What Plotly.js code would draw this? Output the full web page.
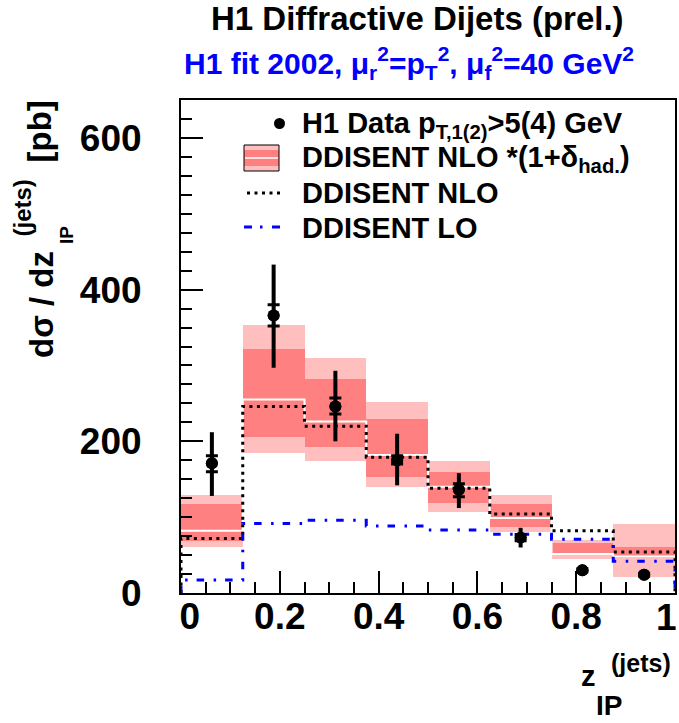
<!DOCTYPE html>
<html>
<head>
<meta charset="utf-8">
<script src="https://cdn.plot.ly/plotly-3.0.1.min.js"></script>
<style>html,body{margin:0;padding:0;background:#fff;}</style>
</head>
<body>
<div id="chart" style="width:679px;height:723px;"></div>
<script>
// ---- data ----
const binEdges   = [0, 0.125, 0.25, 0.375, 0.5, 0.625, 0.75, 0.875, 1];
const binCenters = [0.0625, 0.1875, 0.3125, 0.4375, 0.5625, 0.6875, 0.8125, 0.9375];

// H1 data
const dataY        = [171, 366, 246, 175, 136, 73, 30, 24];
const totErrPlus   = [41, 67, 47, 35, 22, 13, 4, 3];
const totErrMinus  = [43, 69, 46, 33, 24, 13, 4, 3];
const statErrPlus  = [10, 14, 11, 6, 8, 4, 2, 2];
const statErrMinus = [11, 14, 10, 5, 9, 4, 2, 2];

// DDISENT NLO *(1+delta_had) band
const outerLo  = [61, 185, 174, 140, 107, 80, 44.5, 21.5];
const innerLo  = [68, 206, 193, 153, 119, 87, 51, 46];
const central  = [82, 255, 226, 182, 140, 99, 51.5, 48];
const innerHi  = [118, 322, 282, 229, 159, 118, 66, 60];
const outerHi  = [129.5, 354, 310, 252, 174, 129, 70, 90.5];

// DDISENT NLO and LO
const nloY = [72, 246, 220, 179, 138, 104, 82, 54];
const loY  = [17, 91.5, 96, 88.5, 83, 77.5, 71, 42];

// x tick labels (the last one, "1", is drawn just inside the frame as ROOT does)
const xTickVals = [0, 0.2, 0.4, 0.6, 0.8, 1];
const xTickText = ['\u00a0\u20090', '0.2', '0.4', '0.6', '0.8', ''];
const xLastTickLabel = '1';
const yTickVals = [0, 200, 400, 600];
const yTickText = ['0', '200', '400', '600'];

// ---- helpers ----
const L = 181, R = 675, T = 100, B = 593;
const px = v => (v - L) / (R - L);
const py = v => (B - v) / (B - T);
const FONT = 'Liberation Sans, Arial, Helvetica, sans-serif';

function stepFromZero(vals) {
  const xs = [0], ys = [0];
  for (let i = 0; i < vals.length; i++) { xs.push(binEdges[i]); ys.push(vals[i]); }
  xs.push(1); ys.push(vals[vals.length - 1]);
  xs.push(1); ys.push(0);
  return {x: xs, y: ys};
}
function stepPlain(vals) {
  const xs = [], ys = [];
  for (let i = 0; i < vals.length; i++) { xs.push(binEdges[i]); ys.push(vals[i]); }
  xs.push(1); ys.push(vals[vals.length - 1]);
  return {x: xs, y: ys};
}

const widths = binCenters.map((c, i) => binEdges[i + 1] - binEdges[i]);

const traces = [];
traces.push({
  type: 'bar', x: binCenters, base: outerLo, y: outerHi.map((v, i) => v - outerLo[i]),
  width: widths, marker: {color: '#ffbfbf', line: {width: 0}}, hoverinfo: 'skip', showlegend: false
});
traces.push({
  type: 'bar', x: binCenters, base: innerLo, y: innerHi.map((v, i) => v - innerLo[i]),
  width: widths, marker: {color: '#ff8080', line: {width: 0}}, hoverinfo: 'skip', showlegend: false
});
const cst = stepPlain(central);
traces.push({
  type: 'scatter', mode: 'lines', x: cst.x, y: cst.y, line: {shape: 'hv', color: '#ffffff', width: 2},
  hoverinfo: 'skip', showlegend: false
});
const nst = stepFromZero(nloY);
traces.push({
  type: 'scatter', mode: 'lines', x: nst.x, y: nst.y,
  line: {shape: 'hv', color: '#000000', width: 3, dash: '3px,4.5px'}, hoverinfo: 'skip', showlegend: false
});
const lst = stepFromZero(loY);
traces.push({
  type: 'scatter', mode: 'lines', x: lst.x, y: lst.y,
  line: {shape: 'hv', color: '#0000ff', width: 3, dash: '7.5px,9.5px,2.5px,9px'}, hoverinfo: 'skip', showlegend: false
});
traces.push({
  type: 'scatter', mode: 'markers', x: binCenters, y: dataY,
  marker: {color: '#000', size: 12},
  error_y: {type: 'data', symmetric: false, array: totErrPlus, arrayminus: totErrMinus, color: '#000', thickness: 4, width: 0},
  hoverinfo: 'skip', showlegend: false
});
traces.push({
  type: 'scatter', mode: 'markers', x: binCenters, y: dataY,
  marker: {color: '#000', size: 12},
  error_y: {type: 'data', symmetric: false, array: statErrPlus, arrayminus: statErrMinus, color: '#000', thickness: 3, width: 6},
  hoverinfo: 'skip', showlegend: false
});

// ---- legend drawn as shapes + text ----
const shapes = [
  {type: 'circle', xref: 'paper', yref: 'paper', x0: px(274), x1: px(285), y0: py(129), y1: py(118),
   fillcolor: '#000', line: {width: 0}},
  {type: 'rect', xref: 'paper', yref: 'paper', x0: px(244), x1: px(279), y0: py(171), y1: py(145),
   fillcolor: '#ffbfbf', line: {width: 0}},
  {type: 'rect', xref: 'paper', yref: 'paper', x0: px(244), x1: px(279), y0: py(166), y1: py(150),
   fillcolor: '#ff8080', line: {width: 0}},
  {type: 'line', xref: 'paper', yref: 'paper', x0: px(245), x1: px(278), y0: py(158), y1: py(158),
   line: {color: '#fff', width: 1.5}},
  {type: 'rect', xref: 'paper', yref: 'paper', x0: px(244), x1: px(279), y0: py(171), y1: py(145),
   fillcolor: 'rgba(0,0,0,0)', line: {color: '#000', width: 1}},
  {type: 'line', xref: 'paper', yref: 'paper', x0: px(247), x1: px(281), y0: py(193), y1: py(193),
   line: {color: '#000', width: 3, dash: '3px,4.5px'}},
  {type: 'line', xref: 'paper', yref: 'paper', x0: px(244), x1: px(281), y0: py(227), y1: py(227),
   line: {color: '#0000ff', width: 3, dash: '8px,8px,2.5px,9.5px'}}
];

function ann(text, x, y, size, opts) {
  return Object.assign({
    text: text, xref: 'paper', yref: 'paper', x: px(x), y: py(y), showarrow: false,
    xanchor: 'center', yanchor: 'middle',
    font: {family: FONT, size: size, color: '#000', weight: 'bold'}
  }, opts || {});
}

const annotations = [
  ann('H1 Diffractive Dijets (prel.)', 417, 19, 33),
  ann('H1 fit 2002, \u03bc<sub>r</sub><sup>2</sup>=p<sub>T</sub><sup>2</sup>, \u03bc<sub>f</sub><sup>2</sup>=40 GeV<sup>2</sup>',
      409, 63, 30, {font: {family: FONT, size: 30, color: '#0000ff', weight: 'bold'}}),
  ann('H1 Data p<sub>T,1(2)</sub>>5(4) GeV', 300, 125, 29, {xanchor: 'left'}),
  ann('DDISENT NLO *(1+\u03b4<sub>had.</sub>)', 300, 159, 29, {xanchor: 'left'}),
  ann('DDISENT NLO', 300, 193, 29, {xanchor: 'left'}),
  ann('DDISENT LO', 300, 228, 29, {xanchor: 'left'}),
  // last x tick label
  ann(xLastTickLabel, 666, 617, 37),
  // x axis title pieces
  ann('z', 588, 676, 29),
  ann('(jets)', 641, 663, 25),
  ann('IP', 609, 705, 28),
  // y axis title pieces (rotated)
  ann('d\u03c3 / dz', 41, 305, 33, {textangle: -90}),
  ann('(jets)', 22, 208.5, 24, {textangle: -90}),
  ann('IP', 66, 235, 19, {textangle: -90}),
  ann('[pb]', 39, 131.5, 33, {textangle: -90})
];

const axisCommon = {
  showline: true, linecolor: '#000', linewidth: 2, mirror: true,
  ticks: 'inside', ticklen: 22, tickwidth: 2, tickcolor: '#000',
  showgrid: false, zeroline: false, fixedrange: true,
  ticklabeloverflow: 'allow',
  tickfont: {family: FONT, size: 37, color: '#000', weight: 'bold'}
};

const layout = {
  width: 679, height: 723,
  margin: {l: L, r: 679 - R, t: T, b: 723 - B, pad: 0},
  paper_bgcolor: '#fff', plot_bgcolor: '#fff',
  barmode: 'overlay', bargap: 0,
  showlegend: false,
  xaxis: Object.assign({}, axisCommon, {
    range: [0, 1], tickmode: 'array', tickvals: xTickVals, ticktext: xTickText,
    ticklabelstandoff: -10,
    minor: {ticks: 'inside', dtick: 0.05, ticklen: 11, tickwidth: 2, tickcolor: '#000', showgrid: false}
  }),
  yaxis: Object.assign({}, axisCommon, {
    range: [0, 650], tickmode: 'array', tickvals: yTickVals, ticktext: yTickText,
    ticklabelstandoff: 30,
    minor: {ticks: 'inside', dtick: 25, ticklen: 11, tickwidth: 2, tickcolor: '#000', showgrid: false}
  }),
  shapes: shapes,
  annotations: annotations
};

Plotly.newPlot('chart', traces, layout, {staticPlot: true, displayModeBar: false});
</script>
</body>
</html>
